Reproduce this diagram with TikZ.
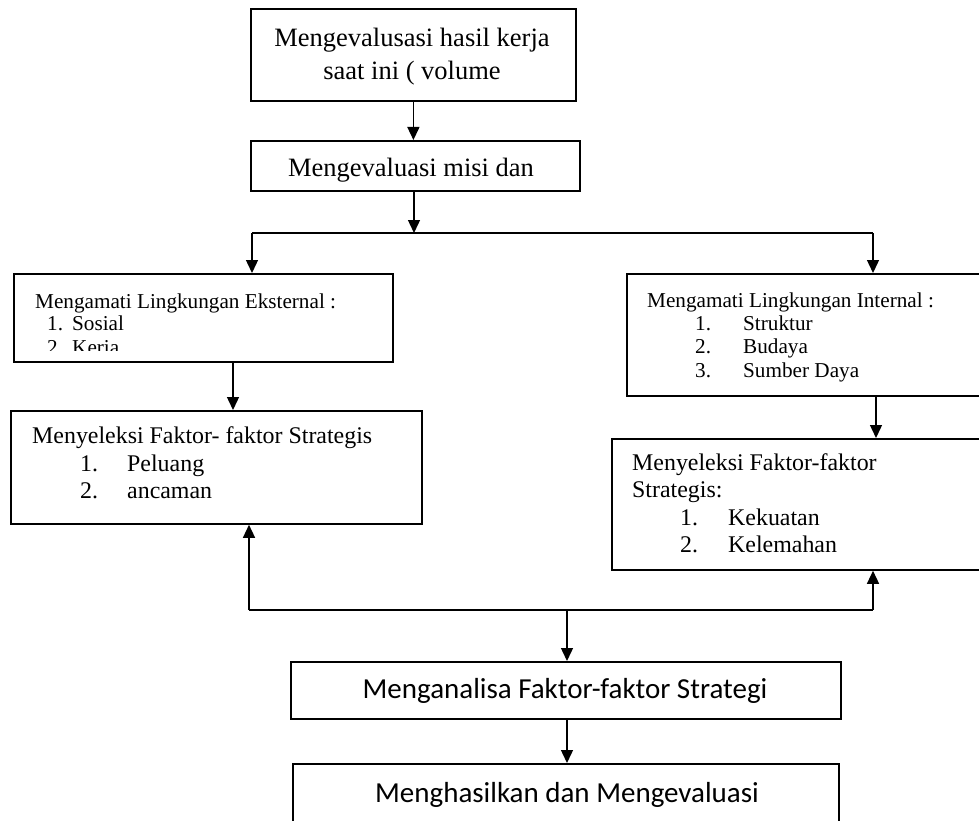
\documentclass[tikz,border=0pt]{standalone}
\usepackage{fontspec}
\setmainfont{Liberation Serif}
\newfontfamily\calibrifont{Carlito}
\usetikzlibrary{arrows.meta}
\begin{document}
\begin{tikzpicture}[x=1pt,y=-1pt,
  box/.style={draw, line width=1.8pt, inner sep=0pt, anchor=north west},
  arr/.style={line width=1.4pt, -{Triangle[width=12pt,length=13pt]}},
  ln/.style={line width=1.4pt},
  txt/.style={inner sep=0pt, anchor=base west},
  fbig/.style={font=\fontsize{26.5}{30}\selectfont},
  fsmall/.style={font=\fontsize{21.2}{24}\selectfont},
  fmid/.style={font=\fontsize{23.9}{27}\selectfont},
  fsans/.style={font=\calibrifont\fontsize{29}{33}\selectfont}]
\useasboundingbox (0,0) rectangle (979,821);
\clip (0,0) rectangle (979,821);

% boxes
\node[box, minimum width=325pt, minimum height=92pt] (b1) at (250,8) {};
\node[box, minimum width=329pt, minimum height=50pt] (b2) at (250,140) {};
\node[box, minimum width=379pt, minimum height=88pt] (b3) at (13,273) {};
\node[box, minimum width=411pt, minimum height=113pt] (b4) at (10,410) {};
\node[box, minimum width=357pt, minimum height=122pt] (b5) at (626,273) {};
\node[box, minimum width=372pt, minimum height=131pt] (b6) at (611,438) {};
\node[box, minimum width=550pt, minimum height=57pt] (b7) at (290,661) {};
\node[box, minimum width=546pt, minimum height=80pt] (b8) at (292,763) {};

% texts
\node[fbig, inner sep=0pt, anchor=base] (t1a) at (412,47) {Mengevalusasi hasil kerja};
\node[fbig, inner sep=0pt, anchor=base] (t1b) at (412,80) {saat ini ( volume};
\node[fbig, inner sep=0pt, anchor=base] (t2) at (411,177) {Mengevaluasi misi dan};

\node[txt, fsmall] (t3a) at (35,308) {Mengamati Lingkungan Eksternal :};
\node[txt, fsmall] (t3n1) at (47,330) {1.};
\node[txt, fsmall] (t3i1) at (72,330) {Sosial};
\begin{scope}
  \clip (13,273) rectangle (392,350);
  \node[txt, fsmall] (t3n2) at (47,354) {2.};
  \node[txt, fsmall] (t3i2) at (72,354) {Keria};
\end{scope}

\node[txt, fmid] (t4a) at (32,443) {Menyeleksi Faktor- faktor Strategis};
\node[txt, fmid] (t4n1) at (80,471) {1.};
\node[txt, fmid] (t4i1) at (127,471) {Peluang};
\node[txt, fmid] (t4n2) at (80,498) {2.};
\node[txt, fmid] (t4i2) at (127,498) {ancaman};

\node[txt, fsmall] (t5a) at (647,307) {Mengamati Lingkungan Internal :};
\node[txt, fsmall] (t5n1) at (695,330) {1.};
\node[txt, fsmall] (t5i1) at (743,330) {Struktur};
\node[txt, fsmall] (t5n2) at (695,353) {2.};
\node[txt, fsmall] (t5i2) at (743,353) {Budaya};
\node[txt, fsmall] (t5n3) at (695,377) {3.};
\node[txt, fsmall] (t5i3) at (743,377) {Sumber Daya};

\node[txt, fmid] (t6a) at (632,470) {Menyeleksi Faktor-faktor};
\node[txt, fmid] (t6b) at (632,497) {Strategis:};
\node[txt, fmid] (t6n1) at (680,525) {1.};
\node[txt, fmid] (t6i1) at (728,525) {Kekuatan};
\node[txt, fmid] (t6n2) at (680,552) {2.};
\node[txt, fmid] (t6i2) at (728,552) {Kelemahan};

\node[fsans, inner sep=0pt, anchor=base] (t7) at (565,698) {Menganalisa Faktor-faktor Strategi};
\node[fsans, inner sep=0pt, anchor=base] (t8) at (567,802) {Menghasilkan dan Mengevaluasi};

% connector points
\coordinate (s) at (414,233);
\coordinate (sl) at (252,233);
\coordinate (sr) at (873,233);
\coordinate (q) at (567,610);
\coordinate (ql) at (249,610);
\coordinate (qr) at (873,610);

% connectors
\draw[arr] (b1.south) -- (b1.south |- b2.north);
\draw[arr] (b2.south -| s) -- (s);
\draw[ln] (sl) -- (sr);
\draw[arr] (sl) -- (sl |- b3.north);
\draw[arr] (sr) -- (sr |- b5.north);
\draw[arr] (233,361) -- (233,410);
\draw[arr] (876,395) -- (876,438);
\draw[ln] (ql) -- (qr);
\draw[arr] (ql) -- (ql |- b4.south);
\draw[arr] (qr) -- (qr |- b6.south);
\draw[arr] (q) -- (q |- b7.north);
\draw[arr] (b7.south -| q) -- (q |- b8.north);
\end{tikzpicture}
\end{document}
